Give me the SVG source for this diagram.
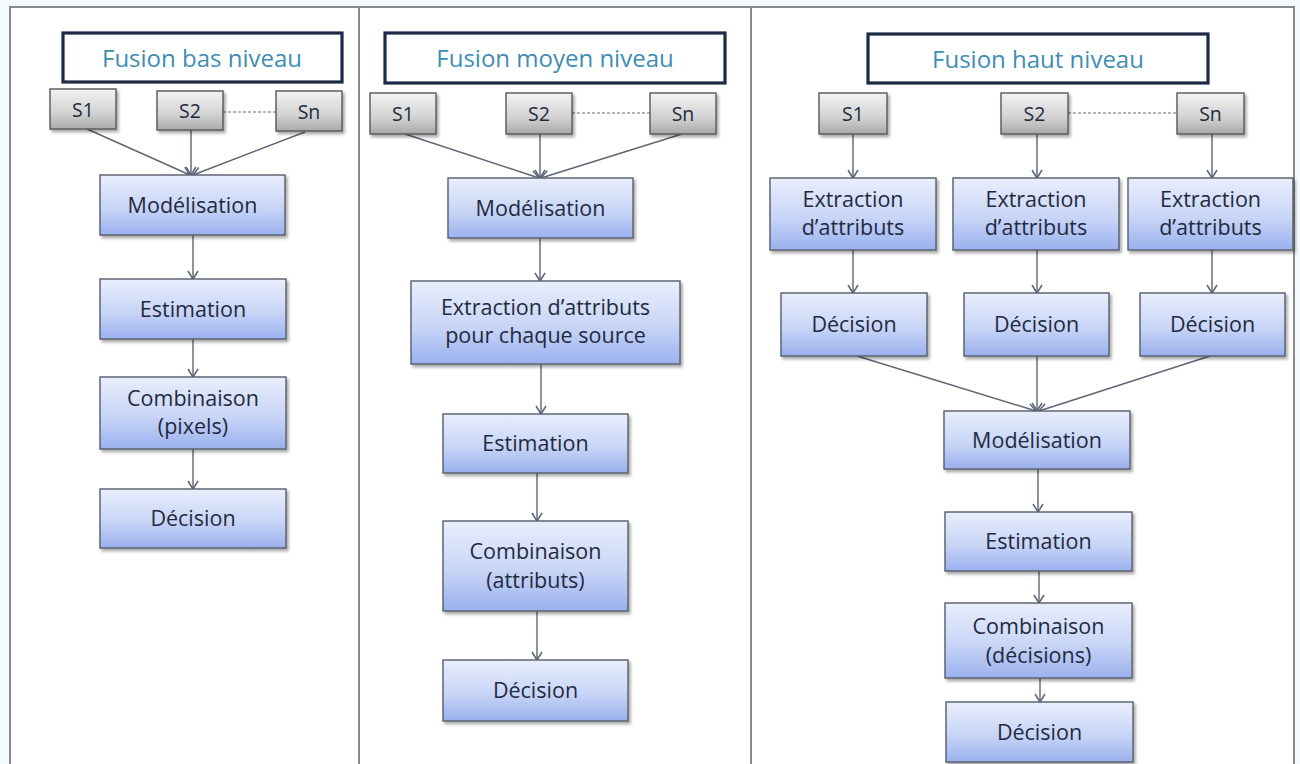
<svg xmlns="http://www.w3.org/2000/svg" width="1300" height="764" viewBox="0 0 1300 764">
  <defs>
    <linearGradient id="gBlue" x1="0" y1="0" x2="0" y2="1">
      <stop offset="0" stop-color="#e9eefc"/>
      <stop offset="0.55" stop-color="#c8d5f7"/>
      <stop offset="1" stop-color="#9ab1ee"/>
    </linearGradient>
    <linearGradient id="gGray" x1="0" y1="0" x2="0" y2="1">
      <stop offset="0" stop-color="#f3f3f3"/>
      <stop offset="0.6" stop-color="#d2d2d2"/>
      <stop offset="1" stop-color="#a9a9a9"/>
    </linearGradient>
    <filter id="shadow" x="-10%" y="-10%" width="130%" height="140%">
      <feDropShadow dx="2" dy="2.5" stdDeviation="1.6" flood-color="#000" flood-opacity="0.35"/>
    </filter>
    <marker id="arrow" markerUnits="userSpaceOnUse" markerWidth="14" markerHeight="14" viewBox="0 0 14 14" refX="12" refY="7" orient="auto">
      <path d="M4,2 L12,7 L4,12" fill="none" stroke="#5d6575" stroke-width="1.5"/>
    </marker>
    <style>
      .panel { fill: #ffffff; stroke: #8a8a8a; stroke-width: 2; }
      .title rect { fill: #ffffff; stroke: #1c2a48; stroke-width: 3.2; }
      .title text { font-family: "Open Sans", "Liberation Sans", sans-serif; font-size: 24px; fill: #3e8db4; text-anchor: middle; }
      .step rect { fill: url(#gBlue); stroke: #575d6b; stroke-width: 1.4; filter: url(#shadow); }
      .src rect { fill: url(#gGray); stroke: #575757; stroke-width: 1.4; filter: url(#shadow); }
      .step text { font-family: "Open Sans", "Liberation Sans", sans-serif; font-size: 21.5px; fill: #1f2a40; text-anchor: middle; }
      .src text { font-family: "Open Sans", "Liberation Sans", sans-serif; font-size: 19.5px; fill: #1f2a40; text-anchor: middle; }
      .edge { fill: none; stroke: #5d6575; stroke-width: 1.4; marker-end: url(#arrow); }
      .link { fill: none; stroke: #6a6f78; stroke-width: 1.2; stroke-dasharray: 3 2; }
    </style>
  </defs>

  <rect x="0" y="0" width="1300" height="764" fill="#f4f9fb"/>

  <!-- three panels -->
  <g id="panels">
    <rect class="panel" x="10" y="7" width="349" height="770"/>
    <rect class="panel" x="359" y="7" width="392" height="770"/>
    <rect class="panel" x="751" y="7" width="543" height="770"/>
  </g>

  <!-- connectors -->
  <g id="connectors">
    <!-- low level -->
    <line class="link" x1="223" y1="112" x2="276" y2="112"/>
    <line class="edge" x1="87" y1="129" x2="190" y2="175"/>
    <line class="edge" x1="191" y1="130" x2="191" y2="175"/>
    <line class="edge" x1="305" y1="132" x2="193" y2="175"/>
    <line class="edge" x1="193" y1="235" x2="193" y2="279"/>
    <line class="edge" x1="193" y1="339" x2="193" y2="377"/>
    <line class="edge" x1="193" y1="449" x2="193" y2="489"/>
    <!-- mid level -->
    <line class="link" x1="572" y1="113" x2="650" y2="113"/>
    <line class="edge" x1="405" y1="134" x2="539" y2="178"/>
    <line class="edge" x1="540" y1="134" x2="540" y2="178"/>
    <line class="edge" x1="682" y1="134" x2="541" y2="178"/>
    <line class="edge" x1="540" y1="238" x2="540" y2="281"/>
    <line class="edge" x1="541" y1="364" x2="541" y2="414"/>
    <line class="edge" x1="537" y1="473" x2="537" y2="521"/>
    <line class="edge" x1="537" y1="611" x2="537" y2="660"/>
    <!-- high level -->
    <line class="link" x1="1068" y1="113" x2="1177" y2="113"/>
    <line class="edge" x1="853" y1="134" x2="853" y2="178"/>
    <line class="edge" x1="1037" y1="134" x2="1037" y2="178"/>
    <line class="edge" x1="1212" y1="134" x2="1212" y2="178"/>
    <line class="edge" x1="853" y1="250" x2="853" y2="293"/>
    <line class="edge" x1="1037" y1="250" x2="1037" y2="293"/>
    <line class="edge" x1="1212" y1="250" x2="1212" y2="293"/>
    <line class="edge" x1="857" y1="356" x2="1036" y2="411"/>
    <line class="edge" x1="1037" y1="356" x2="1037" y2="411"/>
    <line class="edge" x1="1210" y1="356" x2="1039" y2="411"/>
    <line class="edge" x1="1038" y1="469" x2="1038" y2="512"/>
    <line class="edge" x1="1039" y1="571" x2="1039" y2="603"/>
    <line class="edge" x1="1040" y1="678" x2="1040" y2="702"/>
  </g>

  <!-- Fusion bas niveau -->
  <g id="title-bas" class="title"><rect x="63" y="33" width="279" height="49"/><text x="202" y="67">Fusion bas niveau</text></g>
  <g id="bas-s1" class="src"><rect x="50" y="89" width="66" height="40"/><text x="83" y="117">S1</text></g>
  <g id="bas-s2" class="src"><rect x="157" y="91" width="66" height="39"/><text x="190" y="118">S2</text></g>
  <g id="bas-sn" class="src"><rect x="276" y="91" width="66" height="40"/><text x="309" y="119">Sn</text></g>
  <g id="bas-modelisation" class="step"><rect x="100" y="175" width="185" height="60"/><text x="192.5" y="213">Modélisation</text></g>
  <g id="bas-estimation" class="step"><rect x="100" y="279" width="186" height="60"/><text x="193" y="317">Estimation</text></g>
  <g id="bas-combinaison" class="step"><rect x="100" y="377" width="186" height="72"/><text x="193" y="406">Combinaison</text><text x="193" y="434">(pixels)</text></g>
  <g id="bas-decision" class="step"><rect x="100" y="489" width="186" height="59"/><text x="193" y="526">Décision</text></g>

  <!-- Fusion moyen niveau -->
  <g id="title-moyen" class="title"><rect x="385" y="33" width="340" height="50"/><text x="555" y="67">Fusion moyen niveau</text></g>
  <g id="moyen-s1" class="src"><rect x="370" y="93" width="66" height="41"/><text x="403" y="121">S1</text></g>
  <g id="moyen-s2" class="src"><rect x="506" y="93" width="66" height="41"/><text x="539" y="121">S2</text></g>
  <g id="moyen-sn" class="src"><rect x="650" y="93" width="66" height="41"/><text x="683" y="121">Sn</text></g>
  <g id="moyen-modelisation" class="step"><rect x="448" y="178" width="185" height="60"/><text x="540.5" y="216">Modélisation</text></g>
  <g id="moyen-extraction" class="step"><rect x="411" y="281" width="269" height="83"/><text x="545.5" y="315">Extraction d’attributs</text><text x="545.5" y="343">pour chaque source</text></g>
  <g id="moyen-estimation" class="step"><rect x="443" y="414" width="185" height="59"/><text x="535.5" y="451">Estimation</text></g>
  <g id="moyen-combinaison" class="step"><rect x="443" y="521" width="185" height="90"/><text x="535.5" y="559">Combinaison</text><text x="535.5" y="588">(attributs)</text></g>
  <g id="moyen-decision" class="step"><rect x="443" y="660" width="185" height="61"/><text x="535.5" y="698">Décision</text></g>

  <!-- Fusion haut niveau -->
  <g id="title-haut" class="title"><rect x="868" y="34" width="340" height="49"/><text x="1038" y="68">Fusion haut niveau</text></g>
  <g id="haut-s1" class="src"><rect x="819" y="93" width="68" height="41"/><text x="853" y="121">S1</text></g>
  <g id="haut-s2" class="src"><rect x="1001" y="93" width="67" height="41"/><text x="1034.5" y="121">S2</text></g>
  <g id="haut-sn" class="src"><rect x="1177" y="93" width="67" height="41"/><text x="1210.5" y="121">Sn</text></g>
  <g id="haut-extraction-1" class="step"><rect x="770" y="178" width="166" height="72"/><text x="853" y="207">Extraction</text><text x="853" y="235">d’attributs</text></g>
  <g id="haut-extraction-2" class="step"><rect x="953" y="178" width="166" height="72"/><text x="1036" y="207">Extraction</text><text x="1036" y="235">d’attributs</text></g>
  <g id="haut-extraction-3" class="step"><rect x="1128" y="178" width="165" height="72"/><text x="1210.5" y="207">Extraction</text><text x="1210.5" y="235">d’attributs</text></g>
  <g id="haut-decision-1" class="step"><rect x="781" y="293" width="146" height="63"/><text x="854" y="332">Décision</text></g>
  <g id="haut-decision-2" class="step"><rect x="964" y="293" width="145" height="63"/><text x="1036.5" y="332">Décision</text></g>
  <g id="haut-decision-3" class="step"><rect x="1140" y="293" width="145" height="63"/><text x="1212.5" y="332">Décision</text></g>
  <g id="haut-modelisation" class="step"><rect x="944" y="411" width="186" height="58"/><text x="1037" y="448">Modélisation</text></g>
  <g id="haut-estimation" class="step"><rect x="945" y="512" width="187" height="59"/><text x="1038.5" y="549">Estimation</text></g>
  <g id="haut-combinaison" class="step"><rect x="945" y="603" width="187" height="75"/><text x="1038.5" y="634">Combinaison</text><text x="1038.5" y="663">(décisions)</text></g>
  <g id="haut-decision" class="step"><rect x="946" y="702" width="187" height="60"/><text x="1039.5" y="740">Décision</text></g>
</svg>
